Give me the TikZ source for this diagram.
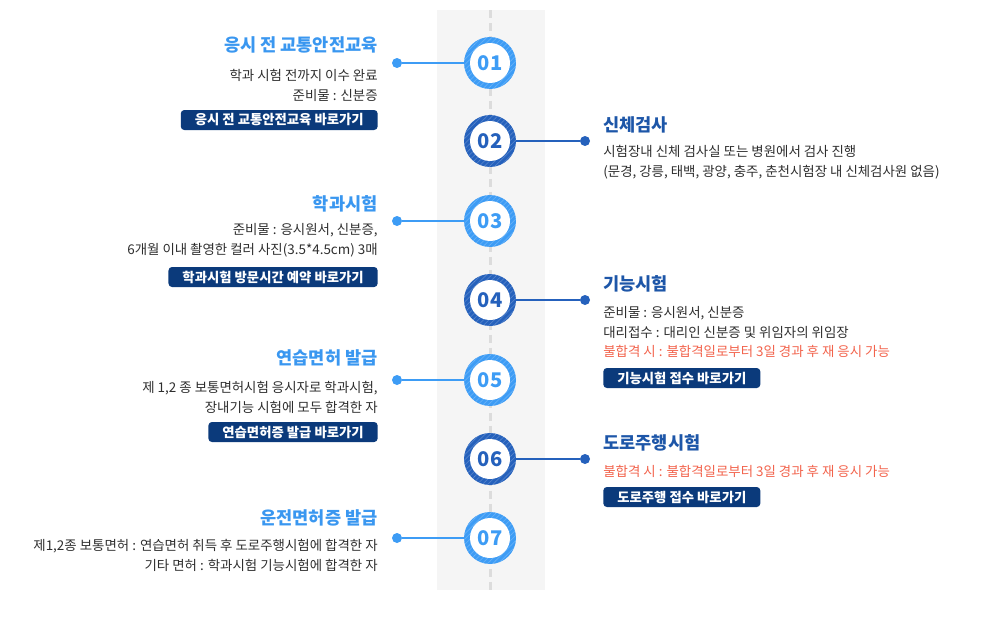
\documentclass[tikz,border=0pt]{standalone}
\usepackage{fontspec}
\setmainfont{Noto Sans CJK KR}
\usetikzlibrary{patterns}

\definecolor{skyring}{HTML}{3D9CF5}
\definecolor{navyring}{HTML}{2561BC}
\definecolor{skytitle}{HTML}{3A97F0}
\definecolor{navytitle}{HTML}{1D56A8}
\definecolor{btnnavy}{HTML}{0B3A7B}
\definecolor{alertred}{HTML}{F2634C}
\definecolor{bodygray}{HTML}{2E2E2E}
\definecolor{bandgray}{HTML}{F5F5F5}
\definecolor{dashgray}{HTML}{DCDCDC}

\tikzset{
  ringbox/.style={circle, minimum size=1.04cm, inner sep=0pt},
  numbox/.style={circle, fill=white, minimum size=0.80cm, inner sep=0pt,
    font=\fontsize{11.5}{12}\selectfont\bfseries},
  dotbox/.style={circle, minimum size=0.20cm, inner sep=0pt},
  titleleft/.style={anchor=east, inner sep=0pt, text=skytitle,
    font=\fontsize{10}{11}\selectfont\bfseries},
  titleright/.style={anchor=west, inner sep=0pt, text=navytitle,
    font=\fontsize{10}{11}\selectfont\bfseries},
  bodyleft/.style={anchor=east, inner sep=0pt, align=right, text=bodygray,
    font=\fontsize{7.65}{11.3}\selectfont},
  bodyright/.style={anchor=west, inner sep=0pt, align=left, text=bodygray,
    font=\fontsize{7.65}{11.3}\selectfont},
  linkbtn/.style={fill=btnnavy, text=white, rounded corners=2pt,
    minimum height=0.40cm, inner xsep=0.28cm, inner ysep=0pt,
    font=\fontsize{7.6}{8}\selectfont\bfseries}
}

\begin{document}
\begin{tikzpicture}[x=0.02cm, y=-0.02cm]
  \useasboundingbox (0,0) rectangle (1003,619);
  \fill[bandgray] (437,10) rectangle (545,590); % band
  \draw[dashgray, line width=0.06cm, dash pattern=on 0.16cm off 0.10cm] (490,10) -- (490,590);

  % steps
  \foreach \n/\yy/\rc/\dx in {01/63/skyring/397, 02/141/navyring/585,
      03/221/skyring/397, 04/300/navyring/585, 05/380/skyring/397,
      06/459/navyring/585, 07/538/skyring/397}{
    \node[ringbox, fill=\rc] (c\n) at (490,\yy) {};
    \fill[pattern=north east lines, pattern color=white, opacity=0.2] (c\n) circle (0.52cm);
    \node[numbox, text=\rc] at (c\n) {\n};
    \node[dotbox, fill=\rc] (d\n) at (\dx,\yy) {};
    \draw[\rc, line width=0.04cm] (d\n) -- (c\n);
  }

  % 01
  \node[titleleft] (t1) at (378,45) {응시 전 교통안전교육};
  \node[bodyleft] (b1) at (378,85) {학과 시험 전까지 이수 완료\\준비물 : 신분증};
  \node[linkbtn, anchor=east] (k1) at (378,120) {응시 전 교통안전교육 바로가기};
  % 02
  \node[titleright] (t2) at (603,125) {신체검사};
  \node[bodyright] (b2) at (603,162) {시험장내 신체 검사실 또는 병원에서 검사 진행\\(문경, 강릉, 태백, 광양, 충주, 춘천시험장 내 신체검사원 없음)};
  % 03
  \node[titleleft] (t3) at (378,204) {학과시험};
  \node[bodyleft] (b3) at (378,240.5) {준비물 : 응시원서, 신분증,\\6개월 이내 촬영한 컬러 사진(3.5*4.5cm) 3매};
  \node[linkbtn, anchor=east] (k3) at (378,277) {학과시험 방문시간 예약 바로가기};
  % 04
  \node[titleright] (t4) at (603,284) {기능시험};
  \node[bodyright] (b4) at (603,332) {준비물 : 응시원서, 신분증\\대리접수 : 대리인 신분증 및 위임자의 위임장\\\textcolor{alertred}{불합격 시 : 불합격일로부터 3일 경과 후 재 응시 가능}};
  \node[linkbtn, anchor=west] (k4) at (603,378) {기능시험 접수 바로가기};
  % 05
  \node[titleleft] (t5) at (378,358) {연습면허 발급};
  \node[bodyleft] (b5) at (378,397.5) {제 1,2 종 보통면허시험 응시자로 학과시험,\\장내기능 시험에 모두 합격한 자};
  \node[linkbtn, anchor=east] (k5) at (378,432) {연습면허증 발급 바로가기};
  % 06
  \node[titleright] (t6) at (603,443) {도로주행시험};
  \node[bodyright, text=alertred] (b6) at (603,471) {불합격 시 : 불합격일로부터 3일 경과 후 재 응시 가능};
  \node[linkbtn, anchor=west] (k6) at (603,497) {도로주행 접수 바로가기};
  % 07
  \node[titleleft] (t7) at (378,518) {운전면허증 발급};
  \node[bodyleft] (b7) at (378,555) {제1,2종 보통면허 : 연습면허 취득 후 도로주행시험에 합격한 자\\기타 면허 : 학과시험 기능시험에 합격한 자};
\end{tikzpicture}
\end{document}
